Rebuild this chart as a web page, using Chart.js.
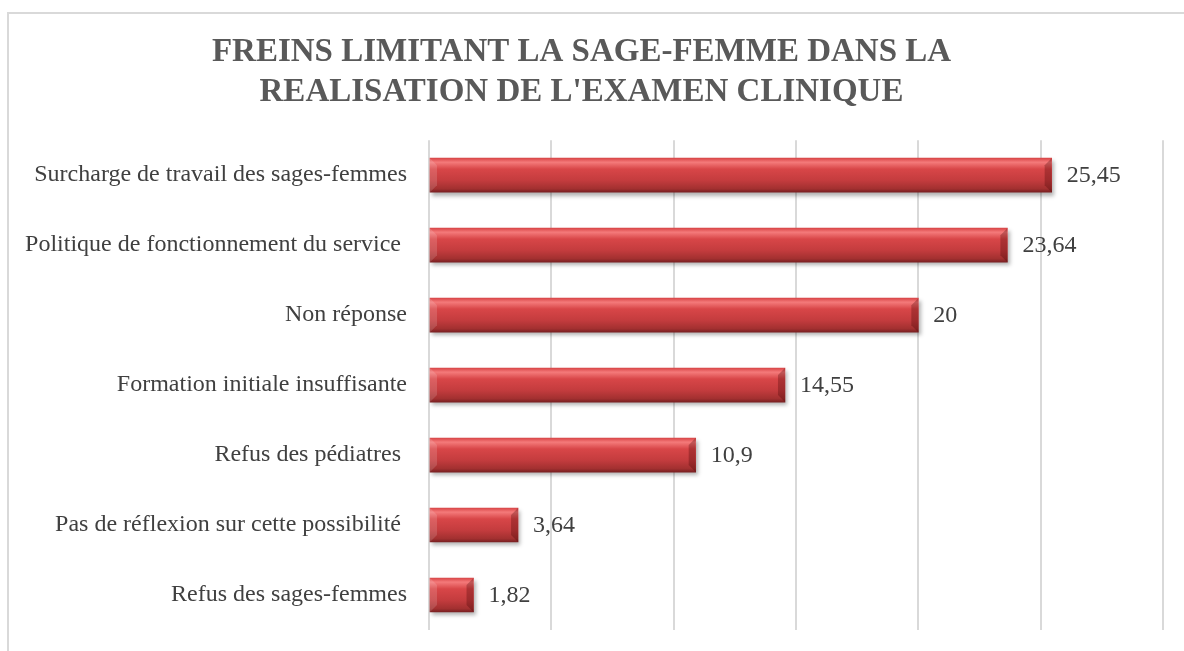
<!DOCTYPE html>
<html>
<head>
<meta charset="utf-8">
<script src="https://cdn.jsdelivr.net/npm/chart.js@4/dist/chart.umd.min.js"></script>
<style>
  html, body { margin: 0; padding: 0; background: #fff; overflow: hidden; }
  #frame { position: absolute; left: 7px; top: 12px; width: 1300px; height: 800px; border: 2px solid #d9d9d9; }
  #wrap { position: absolute; left: 0; top: 0; width: 1184px; height: 651px; }
</style>
</head>
<body>
<div id="frame"></div>
<div id="wrap"><canvas id="chart-bar"></canvas></div>
<script>
var categories = [
  "Surcharge de travail des sages-femmes",
  "Politique de fonctionnement du service ",
  "Non réponse",
  "Formation initiale insuffisante",
  "Refus des pédiatres ",
  "Pas de réflexion sur cette possibilité ",
  "Refus des sages-femmes"
];
var values = [25.45, 23.64, 20, 14.55, 10.9, 3.64, 1.82];
var valueLabels = ["25,45", "23,64", "20", "14,55", "10,9", "3,64", "1,82"];
var titleLines = ["FREINS LIMITANT LA SAGE-FEMME DANS LA", "REALISATION DE L'EXAMEN CLINIQUE"];

var serif = "'Liberation Serif', 'Times New Roman', serif";

// red cylinder look: vertical gradient per bar
function barGradient(context) {
  var chart = context.chart;
  var yScale = chart.scales.y;
  if (!yScale) return "#c0393b";
  var cy = yScale.getPixelForValue(context.dataIndex);
  if (!isFinite(cy)) return "#c0393b";
  var h = 17;
  var g = chart.ctx.createLinearGradient(0, cy - h, 0, cy + h);
  g.addColorStop(0, "#d94648");
  g.addColorStop(0.12, "#f47a7a");
  g.addColorStop(0.32, "#d84648");
  g.addColorStop(0.65, "#c43c3e");
  g.addColorStop(0.9, "#a23030");
  g.addColorStop(1, "#7a2022");
  return g;
}

var shadowPlugin = {
  id: "barShadow",
  beforeDatasetsDraw: function(chart) {
    var ctx = chart.ctx;
    ctx.save();
    ctx.shadowColor = "rgba(0,0,0,0.3)";
    ctx.shadowOffsetX = 2;
    ctx.shadowOffsetY = 3;
    ctx.shadowBlur = 4;
  },
  afterDatasetsDraw: function(chart) {
    chart.ctx.restore();
    var ctx = chart.ctx;
    var meta = chart.getDatasetMeta(0);
    meta.data.forEach(function(bar, i) {
      var x0 = bar.base, x1 = bar.x;
      var top = bar.y - bar.height / 2, bot = bar.y + bar.height / 2;
      var b = 7;
      ctx.save();
      // left bevel
      ctx.fillStyle = "rgba(255,255,255,0.14)";
      ctx.beginPath();
      ctx.moveTo(x0, top); ctx.lineTo(x0 + b, top + b); ctx.lineTo(x0 + b, bot - b); ctx.lineTo(x0, bot);
      ctx.closePath(); ctx.fill();
      // right bevel
      ctx.fillStyle = "rgba(60,0,0,0.28)";
      ctx.beginPath();
      ctx.moveTo(x1, top); ctx.lineTo(x1 - b, top + b); ctx.lineTo(x1 - b, bot - b); ctx.lineTo(x1, bot);
      ctx.closePath(); ctx.fill();
      // value label
      ctx.fillStyle = "#404040";
      ctx.font = "24px " + serif;
      ctx.textAlign = "left";
      ctx.textBaseline = "middle";
      ctx.fillText(valueLabels[i], x1 + 15, bar.y + 1);
      ctx.restore();
    });
  }
};

var ctx = document.getElementById("chart-bar").getContext("2d");
var chartBar = new Chart(ctx, {
  type: "bar",
  plugins: [shadowPlugin],
  data: {
    labels: categories,
    datasets: [{
      data: values,
      backgroundColor: barGradient,
      borderWidth: 0,
      barThickness: 34
    }]
  },
  options: {
    indexAxis: "y",
    responsive: true,
    maintainAspectRatio: false,
    animation: false,
    layout: { padding: { left: 0, right: 21, top: 0, bottom: 21 } },
    plugins: {
      legend: { display: false },
      tooltip: { enabled: false },
      title: {
        display: true,
        text: titleLines,
        color: "#595959",
        font: { family: serif, size: 33, weight: "bold", lineHeight: 1.2 },
        padding: { top: 33, bottom: 28 }
      }
    },
    scales: {
      x: {
        min: 0,
        max: 30,
        ticks: { display: false, stepSize: 5 },
        grid: { color: "#d9d9d9", lineWidth: 2, drawTicks: false },
        border: { display: false }
      },
      y: {
        grid: { display: false, drawTicks: false },
        border: { display: false },
        ticks: { color: "#404040", font: { family: serif, size: 24 }, padding: 22 },
        afterFit: function(scale) {
          scale.width = 429;
          scale.paddingTop = 0;
          scale.paddingBottom = 0;
        }
      }
    }
  }
});
</script>
</body>
</html>
